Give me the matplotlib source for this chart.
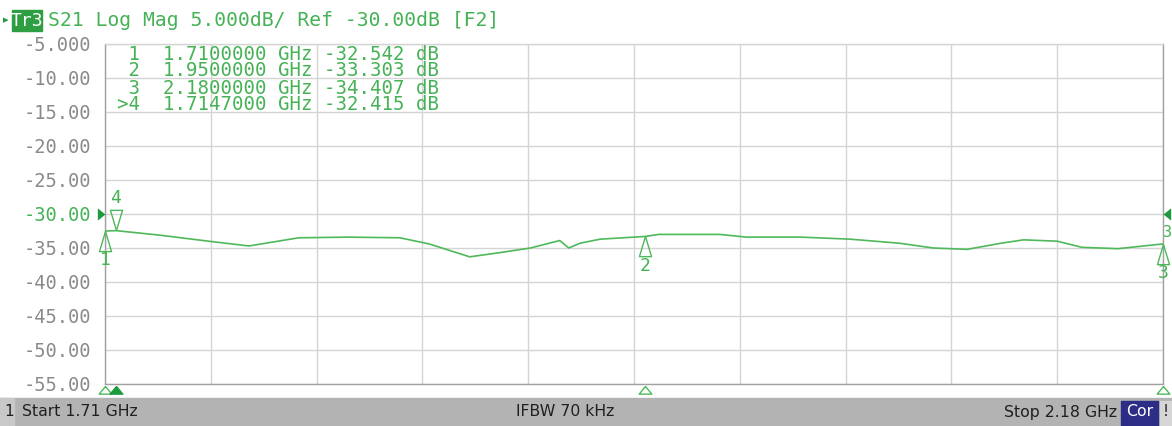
import numpy as np
import matplotlib
matplotlib.use('Agg')
import matplotlib.pyplot as plt
from matplotlib.patches import Rectangle

# S21 trace (GHz, dB)
freq = [1.710, 1.715, 1.734, 1.756, 1.774, 1.796, 1.818, 1.841, 1.854, 1.872,
        1.885, 1.899, 1.912, 1.916, 1.921, 1.930, 1.950, 1.956, 1.983, 1.995,
        2.019, 2.041, 2.063, 2.078, 2.093, 2.108, 2.118, 2.133, 2.144, 2.160, 2.180]
s21 = [-32.5, -32.45, -33.1, -34.0, -34.7, -33.5, -33.4, -33.5, -34.4, -36.3,
       -35.7, -35.0, -33.9, -35.0, -34.3, -33.7, -33.3, -33.0, -33.0, -33.4,
       -33.4, -33.7, -34.3, -35.0, -35.2, -34.3, -33.8, -34.0, -34.9, -35.1, -34.4]

# marker readout
mk_labels = ['1', '2', '3', '>4']
mk_freq = [1.7100000, 1.9500000, 2.1800000, 1.7147000]
mk_val = [-32.542, -33.303, -34.407, -32.415]

f_start, f_stop = 1.71, 2.18
ref_level = -30.0
y_ticks = [-5, -10, -15, -20, -25, -30, -35, -40, -45, -50, -55]

GREEN = '#4fb85a'
TXT_GREEN = '#45b255'
DARK_GREEN = '#1e9a3e'
GREY_TXT = '#8a8a8a'

W, H = 1172, 426
fig = plt.figure(figsize=(W / 100, H / 100), dpi=100)


def fx(px):
    return px / W


def fy(py):
    return 1 - py / H


ax = fig.add_axes([fx(105), fy(384), fx(1163) - fx(105), fy(44) - fy(384)])
ax.set_xlim(f_start, f_stop)
ax.set_ylim(-55, -5)
ax.set_xticks(np.linspace(f_start, f_stop, 11))
ax.set_xticklabels([])
ax.set_yticks(y_ticks)
ax.set_yticklabels([f'{v:.3f}' if abs(v) < 10 else f'{v:.2f}' for v in y_ticks],
                   family='DejaVu Sans Mono', fontsize=13.5, color=GREY_TXT)
ax.tick_params(length=0, pad=10)
for lbl, v in zip(ax.get_yticklabels(), y_ticks):
    if v == ref_level:
        lbl.set_color(TXT_GREEN)
ax.grid(True, color='#d4d4d4', linewidth=1.0)
for s in ax.spines.values():
    s.set_color('#a0a0a0')
    s.set_linewidth(1.0)
ax.spines['top'].set_color('#d4d4d4')

ax.plot(freq, s21, color=GREEN, linewidth=1.2, zorder=3)

# marker triangles on the trace
up = [(0, 0), (-0.3, -1), (0.3, -1), (0, 0)]
down = [(0, 0), (-0.3, 1), (0.3, 1), (0, 0)]
for lbl, f, v in zip(mk_labels, mk_freq, mk_val):
    name = lbl.strip('>')
    if name == '4':
        ax.plot(f, v, marker=down, markersize=29, markerfacecolor='none',
                markeredgecolor=GREEN, markeredgewidth=1.0, clip_on=False, zorder=4)
        ax.annotate(name, (f, v), xytext=(0, 23), textcoords='offset points',
                    ha='center', va='center', fontsize=13, color=TXT_GREEN,
                    family='DejaVu Sans Mono', annotation_clip=False)
    else:
        ax.plot(f, v, marker=up, markersize=29, markerfacecolor='none',
                markeredgecolor=GREEN, markeredgewidth=1.0, clip_on=False, zorder=4)
        ax.annotate(name, (f, v), xytext=(0, -21), textcoords='offset points',
                    ha='center', va='center', fontsize=13, color=TXT_GREEN,
                    family='DejaVu Sans Mono', annotation_clip=False)
        if name == '3':
            ax.annotate(name, (f, v), xytext=(0, 8), textcoords='offset points',
                        ha='left', va='center', fontsize=11, color=TXT_GREEN,
                        family='DejaVu Sans Mono', annotation_clip=False)

# marker stimulus triangles under the grid
bot = [(0, 0), (-0.83, -1), (0.83, -1), (0, 0)]
xtr = ax.get_xaxis_transform()
for lbl, f in zip(mk_labels, mk_freq):
    active = lbl.startswith('>')
    ax.plot(f, -0.006, marker=bot, markersize=11, transform=xtr, clip_on=False,
            markerfacecolor=DARK_GREEN if active else 'white',
            markeredgecolor=DARK_GREEN if active else GREEN, markeredgewidth=1.0, zorder=5)

# reference level arrows
ytr = ax.get_yaxis_transform()
ax.plot(0, ref_level, marker=[(0, 0), (-1, 0.8), (-1, -0.8), (0, 0)], markersize=11,
        transform=ytr, clip_on=False, color=DARK_GREEN, markeredgewidth=0, zorder=5)
ax.plot(1, ref_level, marker=[(0, 0), (1, 0.8), (1, -0.8), (0, 0)], markersize=11,
        transform=ytr, clip_on=False, color=DARK_GREEN, markeredgewidth=0, zorder=5)

# marker table
for i, (lbl, f, v) in enumerate(zip(mk_labels, mk_freq, mk_val)):
    fig.text(fx(117), fy(54 + 17 * i), f'{lbl:>2}  {f:.7f} GHz {v:.3f} dB',
             family='DejaVu Sans Mono', fontsize=13.7, color=TXT_GREEN,
             ha='left', va='center')

# header
fig.patches.append(Rectangle((fx(12), fy(31)), fx(42) - fx(12), fy(10) - fy(31),
                             transform=fig.transFigure, color='#2e9e42', zorder=0))
fig.text(fx(27), fy(20.5), 'Tr3', family='DejaVu Sans Mono', fontsize=13,
         color='white', ha='center', va='center')
fig.text(fx(3), fy(20.5), '\u25b8', fontsize=8, color=DARK_GREEN, ha='left', va='center')
fig.text(fx(48), fy(20.5), 'S21 Log Mag 5.000dB/ Ref -30.00dB [F2]',
         family='DejaVu Sans Mono', fontsize=14.2, color=TXT_GREEN, ha='left', va='center')

# status bar
fig.patches.append(Rectangle((0, 0), 1, fy(398), transform=fig.transFigure,
                             color='#b3b3b3', zorder=0))
fig.patches.append(Rectangle((0, 0), fx(14), fy(398), transform=fig.transFigure,
                             color='#c8c8c8', zorder=0))
fig.patches.append(Rectangle((fx(1121), 0), fx(1158) - fx(1121), fy(401),
                             transform=fig.transFigure, color='#2b2d86', zorder=0))
fig.patches.append(Rectangle((fx(1160), 0), fx(12), fy(401),
                             transform=fig.transFigure, color='#d6d6d6', zorder=0))
bar_y = fy(412)
fig.text(fx(4), bar_y, '1', fontsize=11, color='#202020', ha='left', va='center')
fig.text(fx(22), bar_y, 'Start 1.71 GHz', fontsize=11.3, color='#202020', ha='left', va='center')
fig.text(fx(565), bar_y, 'IFBW 70 kHz', fontsize=11.3, color='#202020', ha='center', va='center')
fig.text(fx(1117), bar_y, 'Stop 2.18 GHz', fontsize=11.3, color='#202020', ha='right', va='center')
fig.text(fx(1139.5), bar_y, 'Cor', fontsize=11.3, color='white', ha='center', va='center')
fig.text(fx(1166), bar_y, '!', fontsize=11, color='#202020', ha='center', va='center')

fig.savefig('out.png', dpi=100)
